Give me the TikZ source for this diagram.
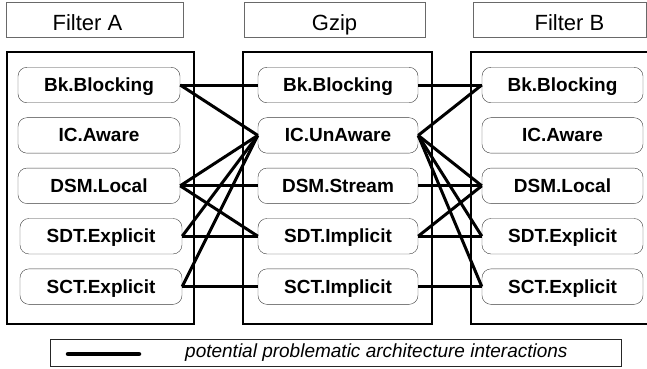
\documentclass[tikz,border=0pt]{standalone}
\usepackage{fontspec}
\setmainfont{Liberation Sans}
\definecolor{titlegray}{RGB}{105,105,105}
\definecolor{boxgray}{RGB}{60,60,60}
\usetikzlibrary{
  positioning,
}
\tikzset{
  titlebox/.style={draw=titlegray,rectangle,minimum height=35,inner sep=0pt,text height=22.4pt,text depth=0pt,font=\fontsize{22}{24}\selectfont},
  partbox/.style={draw=boxgray,rectangle,rounded corners=9pt,minimum height=35.5,inner sep=0pt,text height=13pt,text depth=0pt,font=\bfseries\fontsize{19}{21}\selectfont},
  frame/.style={draw,line width=1.6pt},
  conn/.style={line width=3pt},
  txtshift/.style={execute at begin node={\hspace*{#1}}},
}

\begin{document}
\begin{tikzpicture}[x=1pt,y=-1pt,node distance=14.5pt and 0pt]
        \useasboundingbox (0,0) rectangle (647,368);

        % title boxes
        \node[titlebox,minimum width=177,txtshift=-14pt] (ta) at (94.5,19.5) {Filter A};
        \node[titlebox,minimum width=181] (tg) at (334.5,19.5) {Gzip};
        \node[titlebox,minimum width=173,txtshift=20pt] (tb) at (559.5,19.5) {Filter B};

        % frames
        \draw[frame] (7,52) rectangle (194,324);
        \draw[frame] (243,52) rectangle (432,324);
        \draw[frame] (647,52) -- (471,52) -- (471,324) -- (647,324);

        % filter A
        \node[partbox,minimum width=162]    (a1) at (99,85)       {Bk.Blocking};
        \node[partbox,minimum width=162]    (a2) [below=of a1]    {IC.Aware};
        \node[partbox,minimum width=162]    (a3) [below=of a2]    {DSM.Local};
        \node[partbox,minimum width=162,xshift=2]    (a4) [below=of a3]    {SDT.Explicit};
        \node[partbox,minimum width=162]    (a5) [below=of a4]    {SCT.Explicit};

        % gzip
        \node[partbox,minimum width=160]    (g1) at (338,85)      {Bk.Blocking};
        \node[partbox,minimum width=160]    (g2) [below=of g1]    {IC.UnAware};
        \node[partbox,minimum width=160]    (g3) [below=of g2]    {DSM.Stream};
        \node[partbox,minimum width=160]    (g4) [below=of g3]    {SDT.Implicit};
        \node[partbox,minimum width=160]    (g5) [below=of g4]    {SCT.Implicit};

        % filter B
        \node[partbox,minimum width=161]    (b1) at (562.5,85)    {Bk.Blocking};
        \node[partbox,minimum width=161]    (b2) [below=of b1]    {IC.Aware};
        \node[partbox,minimum width=161]    (b3) [below=of b2]    {DSM.Local};
        \node[partbox,minimum width=161]    (b4) [below=of b3]    {SDT.Explicit};
        \node[partbox,minimum width=161]    (b5) [below=of b4]    {SCT.Explicit};

        \draw[conn] (a1.east) -- (g1.west);
        \draw[conn] (a1.east) -- (g2.west);
        \draw[conn] (a3.east) -- (g2.west);
        \draw[conn] (a3.east) -- (g3.west);
        \draw[conn] (a3.east) -- (g4.west);
        \draw[conn] (a4.east) -- (g2.west);
        \draw[conn] (a4.east) -- (g4.west);
        \draw[conn] (a5.east) -- (g2.west);
        \draw[conn] (a5.east) -- (g5.west);

        \draw[conn] (g1.east) -- (b1.west);
        \draw[conn] (g2.east) -- (b1.west);
        \draw[conn] (g2.east) -- (b3.west);
        \draw[conn] (g2.east) -- (b4.west);
        \draw[conn] (g2.east) -- (b5.west);
        \draw[conn] (g3.east) -- (b3.west);
        \draw[conn] (g4.east) -- (b3.west);
        \draw[conn] (g4.east) -- (b4.west);
        \draw[conn] (g5.east) -- (b5.west);

        % legend
        \node[draw=black!85,line width=0.8pt,rectangle,minimum width=571,minimum height=27,inner sep=0pt] (leg) at (335.5,352.5) {};
        \coordinate (ls) at (68,354);
        \coordinate (le) at (139,354);
        \draw[line width=4.5pt,line cap=round] (ls) -- (le);
        \node[anchor=west,inner sep=0pt,font=\itshape\fontsize{19}{21}\selectfont] (legtxt) at (185,353) {potential problematic architecture interactions};

    \end{tikzpicture}
\end{document}
